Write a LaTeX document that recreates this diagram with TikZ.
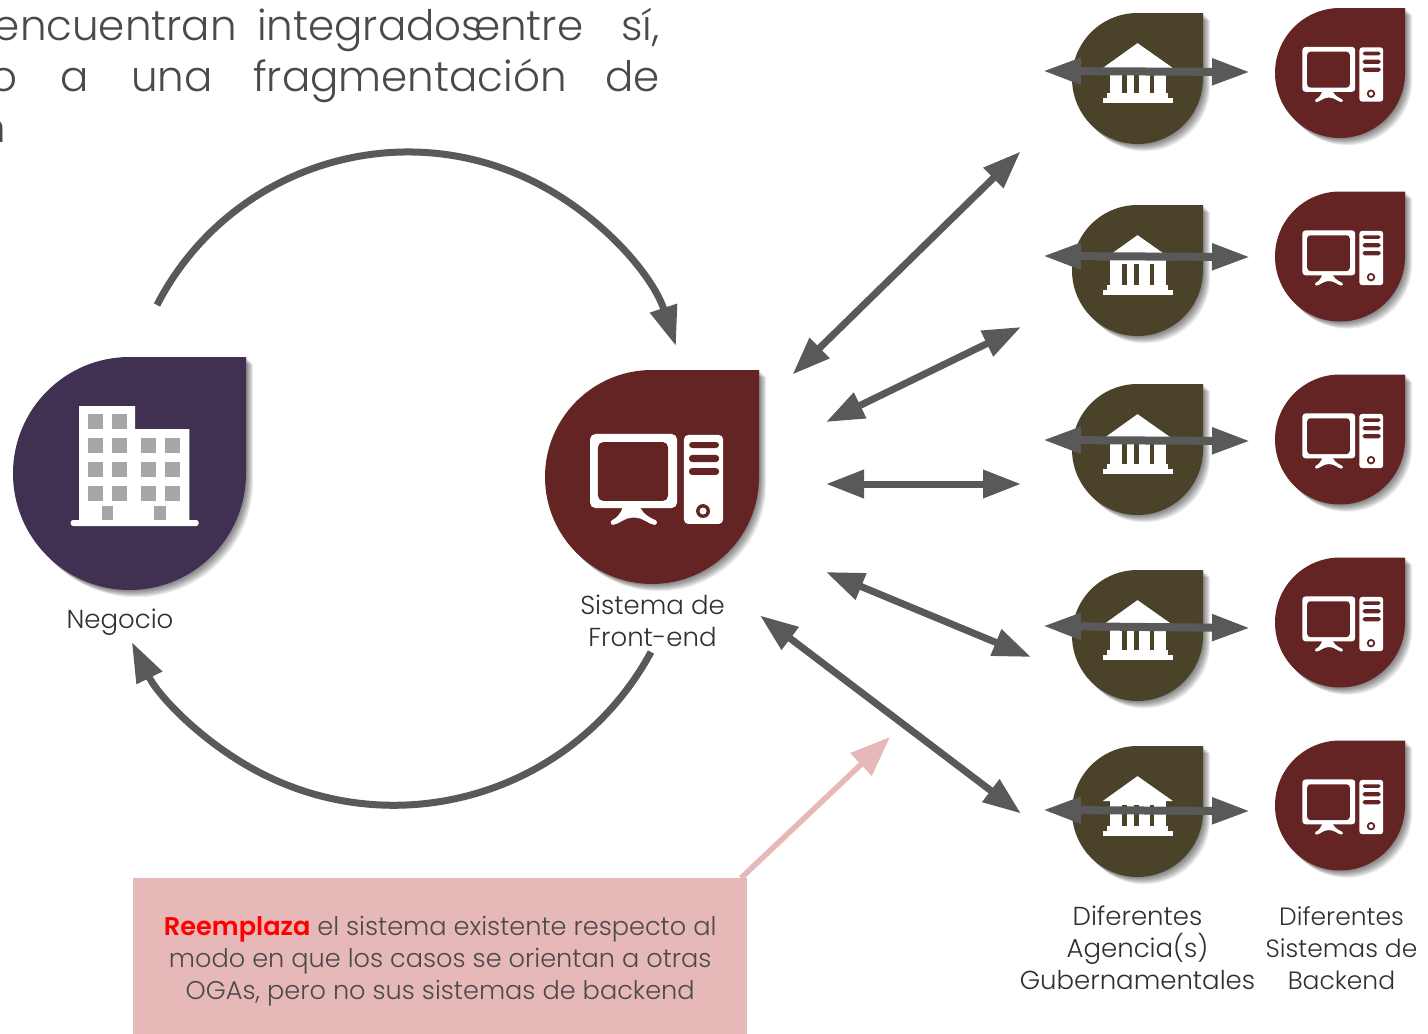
\documentclass[tikz,border=0pt]{standalone}
\usepackage{fontspec}
\setmainfont{Poppins Light}[BoldFont={Poppins SemiBold}]
\usetikzlibrary{arrows.meta}
\definecolor{olivedrop}{HTML}{4A432A}
\definecolor{reddrop}{HTML}{632423}
\definecolor{purpledrop}{HTML}{403152}
\definecolor{arrowgrey}{HTML}{595959}
\definecolor{pinkbox}{HTML}{E6B8B7}
\definecolor{txtgrey}{HTML}{4A4A4A}
\definecolor{capgrey}{HTML}{303030}
\definecolor{wingrey}{HTML}{A6A6A6}
\tikzset{
  x=1pt,y=1pt,
  biglink/.style={draw=arrowgrey,line width=7pt,{Triangle[length=38pt,width=27pt]}-{Triangle[length=38pt,width=27pt]}},
  crosslink/.style={draw=arrowgrey,line width=8pt,{Triangle[length=38pt,width=25pt]}-{Triangle[length=38pt,width=25pt]}},
  looplink/.style={draw=arrowgrey,line width=7pt,-{Triangle[length=40pt,width=27pt]}},
  caption/.style={font=\fontsize{26}{32}\selectfont,text=capgrey,align=center,inner sep=0pt},
  bodyword/.style={font=\fontsize{42}{50}\selectfont,text=txtgrey,inner sep=0pt},
}
\newcommand{\dropshape}[4]{% cx cy r colour
  \begin{scope}[shift={(#1,-#2)}]
    \foreach \o in {1,2,...,8}{
      \fill[black,opacity=0.07] (#3+\o*0.9,#3-\o*0.9) -- (\o*0.9,#3-\o*0.9) arc[start angle=90,end angle=360,radius=#3] -- cycle;
    }
    \fill[#4] (#3,#3) -- (0,#3) arc[start angle=90,end angle=360,radius=#3] -- cycle;
  \end{scope}}
\newcommand{\bankdrop}[2]{%
  \dropshape{#1}{#2}{65.5}{olivedrop}
  \begin{scope}[shift={(#1,-#2)},scale=65.5]
    \fill[white] (0,.54) -- (.54,.16) -- (-.53,.16) -- cycle;
    \fill[white] (-.42,.16) rectangle (.43,-.22);
    \fill[olivedrop] (-.23,.1) rectangle (-.16,-.22);
    \fill[olivedrop] (-.05,.1) rectangle (.03,-.22);
    \fill[olivedrop] (.19,.1) rectangle (.25,-.22);
    \fill[white] (-.46,-.22) rectangle (.46,-.30);
    \fill[white] (-.53,-.30) rectangle (.54,-.37);
  \end{scope}}
\newcommand{\compicon}[3]{%
  \begin{scope}[shift={(#1,-#2)},scale=#3]
    \fill[white,rounded corners=.05*#3] (-.579,.402) rectangle (.234,-.29);
    \fill[reddrop,rounded corners=.05*#3] (-.505,.327) rectangle (.15,-.224);
    \fill[white,rounded corners=.02*#3] (-.27,-.28) -- (-.11,-.28) .. controls (-.08,-.35) and (0,-.39) .. (.05,-.41)
      -- (.04,-.45) .. controls (-.03,-.44) and (-.09,-.38) .. (-.17,-.38)
      .. controls (-.25,-.38) and (-.31,-.44) .. (-.38,-.45) -- (-.39,-.41) .. controls (-.34,-.39) and (-.3,-.35) .. cycle;
    \fill[white,rounded corners=.04*#3] (.299,.393) rectangle (.664,-.439);
    \fill[reddrop,rounded corners=.03*#3] (.346,.327) rectangle (.627,.271);
    \fill[reddrop,rounded corners=.03*#3] (.346,.206) rectangle (.627,.14);
    \fill[reddrop,rounded corners=.03*#3] (.346,.084) rectangle (.627,.019);
    \fill[reddrop] (.477,-.318) circle[radius=.065];
    \fill[white] (.477,-.318) circle[radius=.033];
  \end{scope}}
\newcommand{\compdrop}[3]{%
  \dropshape{#1}{#2}{#3}{reddrop}
  \compicon{#1}{#2}{#3}}
\begin{document}
\begin{tikzpicture}
\useasboundingbox (0,0) rectangle (1428,-1034);
\clip (0,0) rectangle (1428,-1034);
\fill[white] (0,0) rectangle (1428,-1034);

% heading fragment
\node[bodyword,anchor=base east] (w1) at (237,-40) {encuentran};
\node[bodyword,anchor=base west] (w2) at (257,-40) {integrados};
\node[bodyword,anchor=base west] (w3) at (474,-40) {entre};
\node[bodyword,anchor=base east] (w4) at (660,-40) {sí,};
\node[bodyword,anchor=base east] (w5) at (18,-91) {o};
\node[bodyword,anchor=base west] (w6) at (60,-91) {a};
\node[bodyword,anchor=base west] (w7) at (131,-91) {una};
\node[bodyword,anchor=base west] (w8) at (253,-91) {fragmentación};
\node[bodyword,anchor=base east] (w9) at (660,-91) {de};
\node[bodyword,anchor=base east] (w10) at (6,-142) {n};

% main drops
\dropshape{129.5}{473.5}{116.5}{purpledrop}
\fill[white] (79,-406) -- (135,-406) -- (135,-429) -- (189.3,-429) -- (189.3,-520) -- (79,-520) -- cycle;
\fill[white,rounded corners=2.5pt] (70.7,-520) rectangle (198.7,-526);
\foreach \wx in {88.3,112}{\foreach \wy in {414,438,462,486}{
  \fill[wingrey] (\wx,-\wy) rectangle ++(15,-15);}}
\foreach \wx in {141.3,164.7}{\foreach \wy in {438,462,486}{
  \fill[wingrey] (\wx,-\wy) rectangle ++(15,-15);}}
\fill[wingrey] (101.7,-506) rectangle (113,-520);
\fill[wingrey] (154.3,-506) rectangle (165.7,-520);
\compdrop{652}{477}{107}

% agency and backend drops
\bankdrop{1137.5}{78.5}  \compdrop{1340}{73}{65}
\bankdrop{1137.5}{270.5} \compdrop{1340}{256.5}{65}
\bankdrop{1137.5}{449.5} \compdrop{1340}{439.5}{65}
\bankdrop{1137.5}{635.5} \compdrop{1340}{622.5}{65}
\bankdrop{1137.5}{811.5} \compdrop{1340}{805.5}{65}

% connector ends
\coordinate (a1) at (1043,-71);  \coordinate (b1) at (1250,-72);
\coordinate (a2) at (1043,-256); \coordinate (b2) at (1250,-257);
\coordinate (a3) at (1043,-440); \coordinate (b3) at (1250,-441);
\coordinate (a4) at (1043,-626); \coordinate (b4) at (1250,-628);
\coordinate (a5) at (1043,-810); \coordinate (b5) at (1250,-811);
\foreach \i in {1,...,5}{\draw[crosslink] (a\i) -- (b\i);}

\coordinate (f1) at (792.5,-374.5);  \coordinate (g1) at (1020.5,-151.5);
\coordinate (f2) at (826,-422);  \coordinate (g2) at (1021,-327);
\coordinate (f3) at (826,-484);  \coordinate (g3) at (1021,-484);
\coordinate (f4) at (826,-572);  \coordinate (g4) at (1031,-657);
\coordinate (f5) at (760,-615.5);  \coordinate (g5) at (1021,-813.5);
\foreach \i in {1,...,5}{\draw[biglink] (f\i) -- (g\i);}

\coordinate (loopA) at (157,-305);
\draw[looplink] (loopA) arc[start angle=152.75,end angle=18.2,radius=282.2];
\coordinate (loopB) at (651,-652);
\draw[looplink] (loopB) arc[start angle=-28.4,end angle=-153.8,radius=292.2];

% labels
\node[caption] (negocio) at (120,-622.5) {Negocio};
\node[caption] (front) at (652.5,-621) {Sistema de\\Front-end};
\node[caption] (agencias) at (1137.5,-948) {Diferentes\\Agencia(s)\\Gubernamentales};
\node[caption,font=\fontsize{25}{32}\selectfont] (backend) at (1341.5,-948) {Diferentes\\Sistemas de\\Backend};

% callout
\node[fill=pinkbox,minimum width=614pt,minimum height=166pt,inner sep=0pt,anchor=north west,
  font=\fontsize{25.6}{32}\selectfont,text=txtgrey,align=center] (note) at (133,-878)
  {{\bfseries\textcolor{red}{Reemplaza}} el sistema existente respecto al\\modo en que los casos se orientan a otras\\OGAs, pero no sus sistemas de backend};
\coordinate (noteTip) at (890,-737);
\draw[draw=pinkbox,line width=5.5pt,-{Triangle[length=40pt,width=30pt]}] (741,-878) -- (noteTip);
\end{tikzpicture}
\end{document}
